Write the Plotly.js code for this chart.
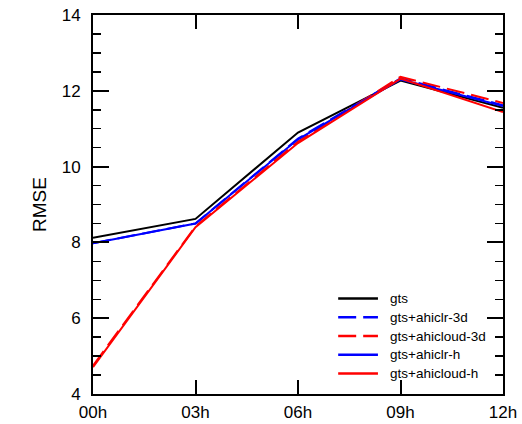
<!DOCTYPE html>
<html><head><meta charset="utf-8">
<script src="https://cdn.plot.ly/plotly-3.0.1.min.js"></script>
<style>html,body{margin:0;padding:0;background:#fff}#c{width:522px;height:424px}</style>
</head><body><div id="c"></div>
<script>
var hours = ["00h","03h","06h","09h","12h"];
var gts = [8.12, 8.62, 10.90, 12.27, 11.55];
var ahiclr3d = [7.98, 8.50, 10.74, 12.33, 11.62];
var ahicloud3d = [4.75, 8.42, 10.66, 12.37, 11.68];
var ahiclrh = [7.98, 8.50, 10.72, 12.30, 11.60];
var ahicloudh = [4.71, 8.40, 10.62, 12.32, 11.44];
var names = ["gts","gts+ahiclr-3d","gts+ahicloud-3d","gts+ahiclr-h","gts+ahicloud-h"];
var colors = ['#000000','#0000ff','#ff0000','#0000ff','#ff0000'];
var dashes = ['solid','18px,7px','18px,7px','solid','solid'];
var series = [gts, ahiclr3d, ahicloud3d, ahiclrh, ahicloudh];

var xs = hours.map(function(_, i){return i;});
var font = {family:'Liberation Sans, Arial, sans-serif', color:'#000'};
var data = series.map(function(y, i){
  return {x: xs, y: y, name: names[i], type:'scatter', mode:'lines', showlegend:false,
    line:{color:colors[i], width:2, dash:dashes[i]}};
});

// custom legend (paper coords)
var shapes = [], annotations = [];
var legTop = 0.252, legStep = 0.0495;
names.forEach(function(n, i){
  var yy = legTop - i*legStep;
  shapes.push({type:'line', xref:'paper', yref:'paper', x0:0.598, x1:0.695, y0:yy, y1:yy,
    line:{color:colors[i], width:2.5, dash:dashes[i]}});
  annotations.push({xref:'paper', yref:'paper', x:0.72, y:yy, xanchor:'left', yanchor:'middle',
    text:n, showarrow:false, font:Object.assign({size:13.5}, font)});
});

var layout = {
  width:522, height:424,
  margin:{l:93, r:19, t:15, b:30},
  paper_bgcolor:'#fff', plot_bgcolor:'#fff',
  font: Object.assign({size:17}, font),
  showlegend:false,
  shapes: shapes, annotations: annotations,
  xaxis:{range:[0,4], tickvals:xs, ticktext:hours, showgrid:false, zeroline:false,
    showline:true, linecolor:'#000', linewidth:2, mirror:'allticks',
    ticks:'inside', ticklen:14, tickwidth:2, tickcolor:'#000', ticklabelstandoff:2,
    tickfont:Object.assign({size:17}, font), fixedrange:true},
  yaxis:{range:[4,14], tickvals:[4,6,8,10,12,14], showgrid:false, zeroline:false,
    showline:true, linecolor:'#000', linewidth:2, mirror:'allticks',
    ticks:'inside', ticklen:16, tickwidth:2, tickcolor:'#000', ticklabelstandoff:7,
    minor:{dtick:0.5, ticks:'inside', ticklen:8, tickwidth:1.5, tickcolor:'#000', showgrid:false},
    tickfont:Object.assign({size:17}, font),
    title:{text:'RMSE', font:Object.assign({size:19}, font), standoff:10}, fixedrange:true}
};
Plotly.newPlot('c', data, layout, {displayModeBar:false, staticPlot:true});
</script></body></html>
